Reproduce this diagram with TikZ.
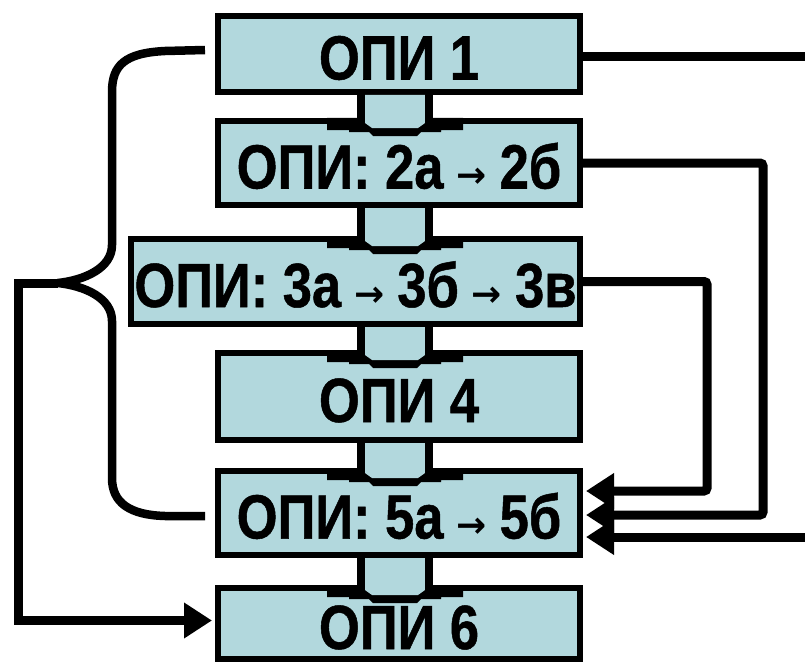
\documentclass[tikz,border=0pt]{standalone}
\usepackage{fontspec}
\setmainfont{Liberation Sans}[FakeStretch=0.84, BoldFeatures={FakeBold=0.8}]
\newfontfamily\arrfont{DejaVu Sans}
\usetikzlibrary{arrows.meta,calc}
\definecolor{boxfill}{RGB}{178,216,221}
\newcommand{\arr}{\raisebox{1pt}{\arrfont\fontsize{36pt}{36pt}\selectfont →}}
\newcommand{\gp}{\hspace{13pt}}
% plug between an upper box (outer bottom #1) and a lower box (outer top #2)
\newcommand{\plug}[2]{%
 \fill[black] (327,#2) -- (463,#2) -- (463,#2+12) -- (441,#2+12) -- (441,#2+14) -- (421,#2+14) -- (417,#2+18) -- (373,#2+18) -- (369,#2+14) -- (349,#2+14) -- (349,#2+12) -- (327,#2+12) -- cycle;
 \fill[boxfill] (365,#1) -- (425,#1) -- (425,#2+5) -- (418,#2+10) -- (372,#2+10) -- (365,#2+5) -- cycle;
 \draw[line width=8pt] (361,#1) -- (361,#2+8);
 \draw[line width=8pt] (429,#1) -- (429,#2+8);
}
\begin{document}
\begin{tikzpicture}[x=1pt,y=-1pt,
  box/.style={draw=black, line width=6pt, fill=boxfill, inner sep=0pt,
    text height=51pt, text depth=0pt,
    font=\bfseries\fontsize{62.5pt}{62.5pt}\selectfont},
  conn/.style={line width=9pt, rounded corners=3pt},
  tipd/.style={-{Triangle[length=28pt,width=34pt]}},
  brace/.style={line width=8.5pt, line join=round}]
\useasboundingbox (0,0) rectangle (805,666);
\fill[white] (0,0) rectangle (805,666);

\node[box, minimum width=362pt, minimum height=76pt] (b1) at (399,54) {ОПИ 1};
\node[box, minimum width=362pt, minimum height=84pt] (b2) at (399,163) {ОПИ: 2а\gp\arr\gp2б};
\node[box, minimum width=449pt, minimum height=85pt] (b3) at (355.5,281.5) {ОПИ: 3а\gp\arr\gp3б\gp\arr\gp3в};
\node[box, minimum width=362pt, minimum height=87pt] (b4) at (399,396.5) {ОПИ 4};
\node[box, minimum width=362pt, minimum height=84pt] (b5) at (399,513) {ОПИ: 5а\gp\arr\gp5б};
\node[box, minimum width=362pt, minimum height=71pt] (b6) at (399,623.5) {ОПИ 6};

\plug{95}{118}
\plug{208}{236}
\plug{327}{350}
\plug{443}{468}
\plug{558}{585}

% left brace
\coordinate (tip) at (58,283);
\coordinate (lx) at (18,0);
\draw[brace] ($(b1.west)+(-10,-4)$) -- (165,51) .. controls (125,53) and (112,65) .. (112,92)
  -- (112,245) .. controls (112,268) and (85,280) .. (tip)
  .. controls (85,286) and (112,298) .. (112,321)
  -- (112,478) .. controls (112,503) and (130,515) .. (165,516) -- ($(b5.west)+(-10,3)$);
\draw[conn, tipd, rounded corners=0pt] (tip) -- (tip -| lx) |- ($(b6.west)+(-3,-3)$);

% right connectors
\coordinate (o1) at (805,57);
\draw[conn] (b1.east |- o1) -- (o1);
\coordinate (k2) at (763,515);
\draw[conn, tipd] (b2.east) -| (k2) -- ($(b5.east |- k2)+(3,0)$);
\coordinate (k3) at (707,491);
\draw[conn, tipd] (b3.east) -| (k3) -- ($(b5.east |- k3)+(3,0)$);
\coordinate (o5) at (805,537);
\draw[conn, tipd] (o5) -- ($(b5.east |- o5)+(3,0)$);
\end{tikzpicture}
\end{document}
